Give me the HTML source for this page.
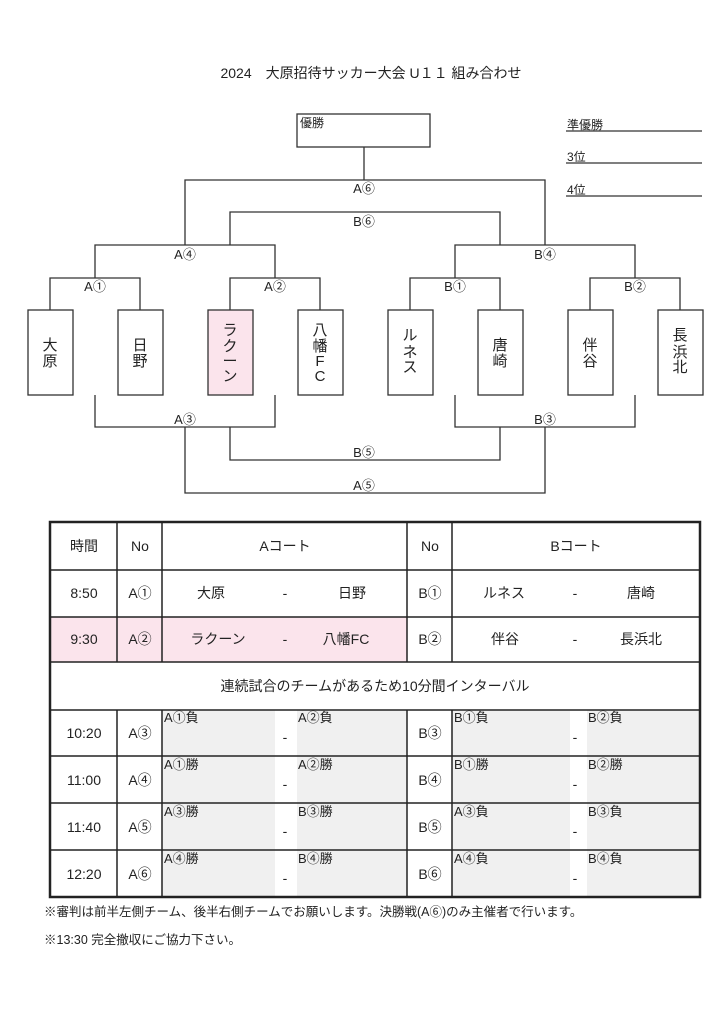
<!DOCTYPE html>
<html><head><meta charset="utf-8"><style>
body{margin:0;width:724px;height:1024px;background:#fff;position:relative;overflow:hidden;font-family:"Liberation Sans","Noto Sans CJK JP",sans-serif;color:#222}
svg{position:absolute;left:0;top:0}
</style></head><body>
<svg width="724" height="1024" xmlns="http://www.w3.org/2000/svg" font-family="Liberation Sans, Noto Sans CJK JP, sans-serif" fill="none" stroke="#333" stroke-width="1.3">
<text x="371" y="78" font-size="14" fill="#222" stroke="none" text-anchor="middle">2024　大原招待サッカー大会 U１１ 組み合わせ</text>
<rect x="297" y="114" width="133" height="33"/>
<text x="300" y="127" font-size="12" fill="#222" stroke="none">優勝</text>
<text x="567" y="129" font-size="12" fill="#222" stroke="none">準優勝</text>
<text x="567" y="161" font-size="12" fill="#222" stroke="none">3位</text>
<text x="567" y="194" font-size="12" fill="#222" stroke="none">4位</text>
<path d="M566 131H702M566 163H702M566 196H702"/>
<path d="M364 147V180M185 245V180H545V245M230 245V212H500V245"/>
<path d="M50 310V278H140V310M95 278V245H275V278M230 310V278H320V310"/>
<path d="M410 310V278H500V310M455 278V245H635V278M590 310V278H680V310"/>
<path d="M95 395V427H275V395M455 395V427H635V395"/>
<path d="M230 427V460H500V427M185 427V493H545V427"/>
<g fill="#222" stroke="none" font-size="13" text-anchor="middle">
<text x="364" y="193">A⑥</text><text x="364" y="226">B⑥</text>
<text x="185" y="259">A④</text><text x="545" y="259">B④</text>
<text x="95" y="291">A①</text><text x="275" y="291">A②</text>
<text x="455" y="291">B①</text><text x="635" y="291">B②</text>
<text x="185" y="424">A③</text><text x="545" y="424">B③</text>
<text x="364" y="457">B⑤</text><text x="364" y="490">A⑤</text>
</g>
<g>
<rect x="28" y="310" width="45" height="85"/>
<rect x="118" y="310" width="45" height="85"/>
<rect x="208" y="310" width="45" height="85" fill="#fbe4ec"/>
<rect x="298" y="310" width="45" height="85"/>
<rect x="388" y="310" width="45" height="85"/>
<rect x="478" y="310" width="45" height="85"/>
<rect x="568" y="310" width="45" height="85"/>
<rect x="658" y="310" width="45" height="85"/>
</g>
<g fill="#222" stroke="none" font-size="15" text-anchor="middle">
<text x="50" y="350">大</text><text x="50" y="366">原</text>
<text x="140" y="350">日</text><text x="140" y="366">野</text>
<text x="230" y="335">ラ</text><text x="230" y="351">ク</text><text x="230" y="366">ー</text><text x="230" y="381">ン</text>
<text x="320" y="335">八</text><text x="320" y="351">幡</text><text x="320" y="366">F</text><text x="320" y="381">C</text>
<text x="410" y="340">ル</text><text x="410" y="357">ネ</text><text x="410" y="372">ス</text>
<text x="500" y="350">唐</text><text x="500" y="366">崎</text>
<text x="590" y="350">伴</text><text x="590" y="366">谷</text>
<text x="680" y="340">長</text><text x="680" y="357">浜</text><text x="680" y="372">北</text>
</g>
<rect x="50" y="617" width="357" height="45" fill="#fbe4ec" stroke="none"/>
<g fill="#f0f0f0" stroke="none">
<rect x="162" y="710" width="113" height="187"/><rect x="297" y="710" width="110" height="187"/>
<rect x="452" y="710" width="118" height="187"/><rect x="587" y="710" width="113" height="187"/>
</g>
<g stroke="#222" stroke-width="1.5">
<path d="M50 570H700M50 617H700M50 662H700M50 710H700M50 756H700M50 803H700M50 850H700"/>
<path d="M117 522V662M162 522V662M407 522V662M452 522V662M117 710V897M162 710V897M407 710V897M452 710V897"/>
</g>
<rect x="50" y="522" width="650" height="375" stroke="#222" stroke-width="2.5"/>
<g fill="#222" stroke="none" font-size="14" text-anchor="middle">
<text x="84" y="551">時間</text><text x="140" y="551">No</text><text x="285" y="551">Aコート</text><text x="430" y="551">No</text><text x="576" y="551">Bコート</text>
<text x="84" y="598">8:50</text><text x="140" y="598">A①</text><text x="211" y="598">大原</text><text x="285" y="598">-</text><text x="352" y="598">日野</text>
<text x="430" y="598">B①</text><text x="504" y="598">ルネス</text><text x="575" y="598">-</text><text x="641" y="598">唐崎</text>
<text x="84" y="644">9:30</text><text x="140" y="644">A②</text><text x="218" y="644">ラクーン</text><text x="285" y="644">-</text><text x="346" y="644">八幡FC</text>
<text x="430" y="644">B②</text><text x="505" y="644">伴谷</text><text x="575" y="644">-</text><text x="641" y="644">長浜北</text>
<text x="375" y="691">連続試合のチームがあるため10分間インターバル</text>
<text x="84" y="738">10:20</text><text x="140" y="738">A③</text><text x="430" y="738">B③</text>
<text x="84" y="785">11:00</text><text x="140" y="785">A④</text><text x="430" y="785">B④</text>
<text x="84" y="832">11:40</text><text x="140" y="832">A⑤</text><text x="430" y="832">B⑤</text>
<text x="84" y="879">12:20</text><text x="140" y="879">A⑥</text><text x="430" y="879">B⑥</text>
<text x="285" y="742">-</text><text x="575" y="742">-</text>
<text x="285" y="789">-</text><text x="575" y="789">-</text>
<text x="285" y="836">-</text><text x="575" y="836">-</text>
<text x="285" y="883">-</text><text x="575" y="883">-</text>
</g>
<g fill="#222" stroke="none" font-size="13">
<text x="164" y="722">A①負</text><text x="298" y="722">A②負</text><text x="454" y="722">B①負</text><text x="588" y="722">B②負</text>
<text x="164" y="769">A①勝</text><text x="298" y="769">A②勝</text><text x="454" y="769">B①勝</text><text x="588" y="769">B②勝</text>
<text x="164" y="816">A③勝</text><text x="298" y="816">B③勝</text><text x="454" y="816">A③負</text><text x="588" y="816">B③負</text>
<text x="164" y="863">A④勝</text><text x="298" y="863">B④勝</text><text x="454" y="863">A④負</text><text x="588" y="863">B④負</text>
</g>
<g fill="#222" stroke="none" font-size="12.5">
<text x="44" y="916">※審判は前半左側チーム、後半右側チームでお願いします。決勝戦(A⑥)のみ主催者で行います。</text>
<text x="44" y="944">※13:30 完全撤収にご協力下さい。</text>
</g>
</svg>
</body></html>
